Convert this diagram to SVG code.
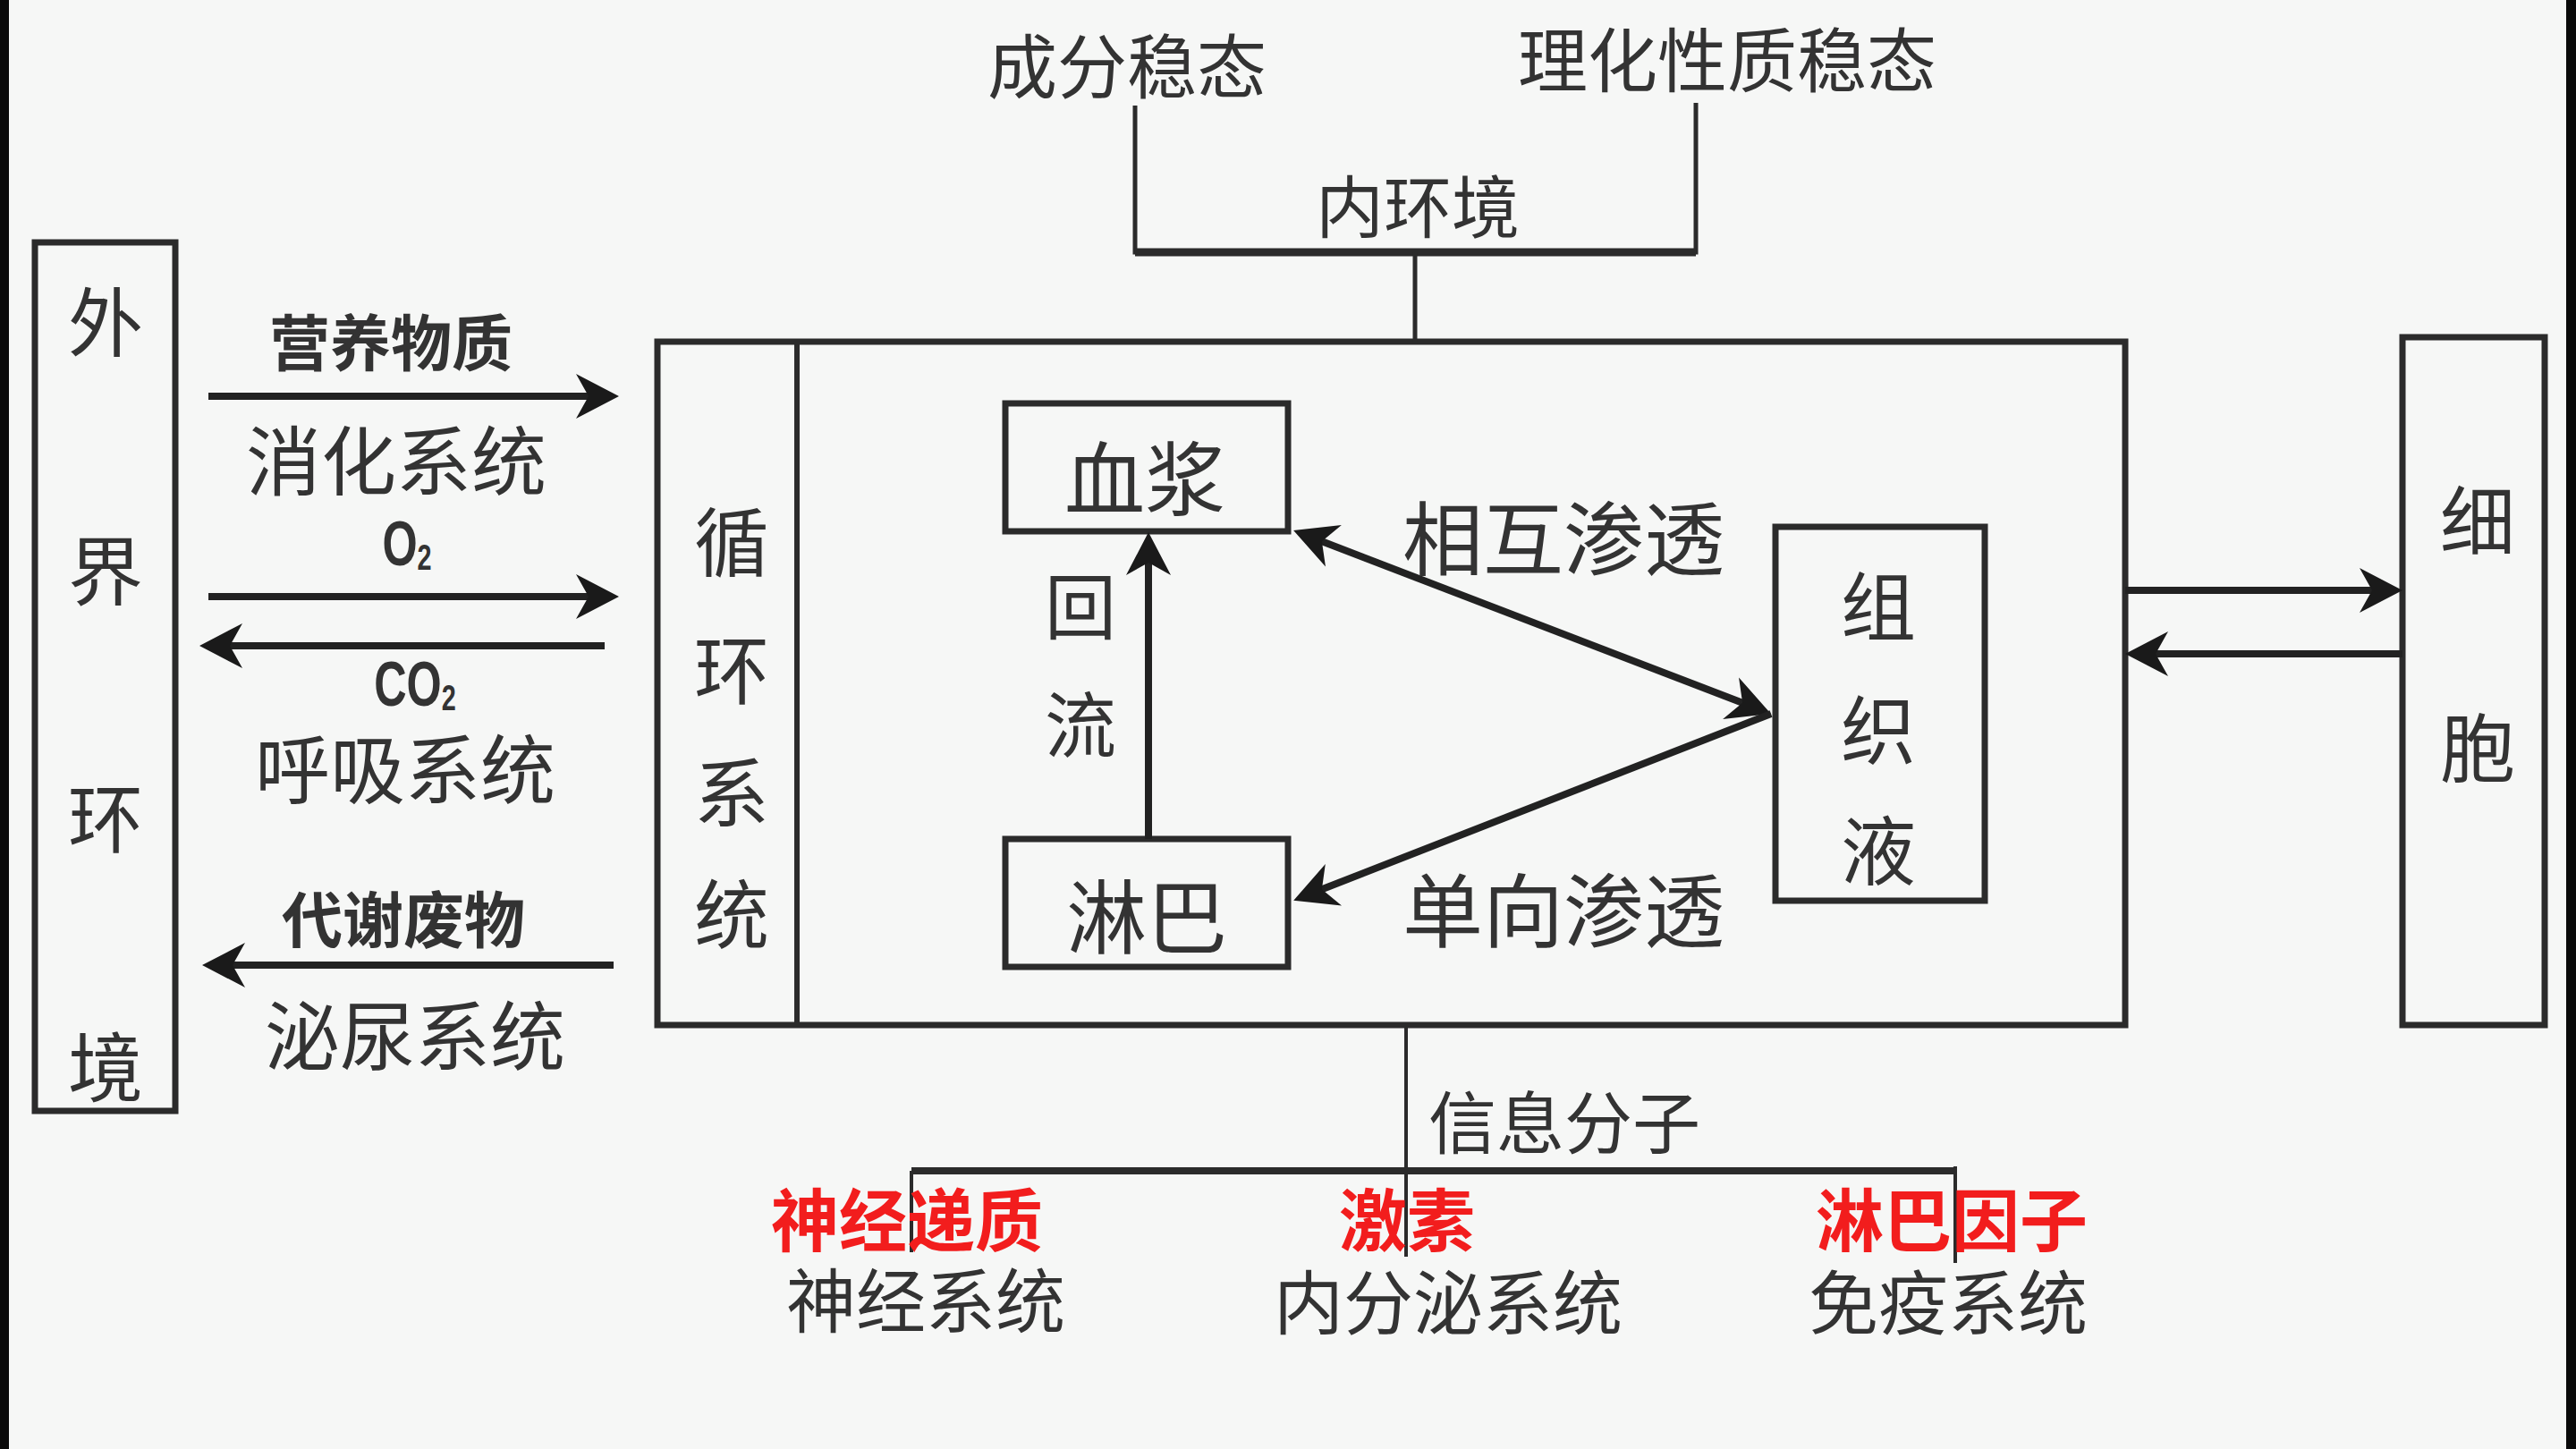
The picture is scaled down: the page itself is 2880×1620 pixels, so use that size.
<svg xmlns="http://www.w3.org/2000/svg" width="2880" height="1620" viewBox="0 0 2880 1620">
<style>
.t{font-family:"Noto Sans CJK SC","Noto Sans",sans-serif;fill:#333;dominant-baseline:central;text-anchor:middle}
.r{fill:#f21d1d;font-weight:bold}
.box{fill:none;stroke:#2b2b2b;stroke-width:7}
.ln{stroke:#2b2b2b;fill:none}
.ar{stroke:#222;stroke-width:8;fill:none;marker-end:url(#ah)}
.chem{font-family:"Liberation Sans",Arial,sans-serif;font-weight:bold;fill:#333;text-anchor:middle;dominant-baseline:central}
</style>
<defs>
<marker id="ah" viewBox="-50 -28 52 56" markerWidth="52" markerHeight="56" refX="-32" refY="0" orient="auto-start-reverse" markerUnits="userSpaceOnUse">
<path d="M0,0 L-48,-25 L-34,0 L-48,25 Z" fill="#1a1a1a"/>
</marker>
</defs>
<rect width="2880" height="1620" fill="#f6f7f6"/>
<rect x="0" y="0" width="10" height="1620" fill="#0a0a0a"/>
<rect x="2869" y="0" width="11" height="1620" fill="#0a0a0a"/>

<g id="top-labels">
<text class="t" x="1260" y="70" font-size="78">成分稳态</text>
<text class="t" x="1931" y="63" font-size="78">理化性质稳态</text>
<text class="t" x="1585" y="227" font-size="76">内环境</text>
</g>

<g id="waijie">
<rect class="box" x="39" y="271" width="157" height="971"/>
<text class="t" x="118" y="355" font-size="84">外</text>
<text class="t" x="118" y="633" font-size="84">界</text>
<text class="t" x="118" y="910" font-size="84">环</text>
<text class="t" x="118" y="1188" font-size="84">境</text>
</g>

<g id="neihuanjing">
<rect class="box" x="735" y="382" width="1641" height="764" stroke-width="8"/>
<line class="ln" x1="891" y1="382" x2="891" y2="1146" stroke-width="6"/>
</g>

<g id="xunhuan">
<text class="t" x="818" y="601" font-size="84">循</text>
<text class="t" x="818" y="744" font-size="84">环</text>
<text class="t" x="818" y="881" font-size="84">系</text>
<text class="t" x="818" y="1017" font-size="84">统</text>
</g>

<g id="xuejiang">
<rect class="box" x="1124" y="451" width="316" height="143"/>
<text class="t" x="1280" y="530" font-size="90">血浆</text>
</g>

<g id="linba">
<rect class="box" x="1124" y="938" width="316" height="143"/>
<text class="t" x="1282" y="1020" font-size="90">淋巴</text>
</g>

<g id="zuzhiye">
<rect class="box" x="1985" y="589" width="234" height="418"/>
<text class="t" x="2100" y="673" font-size="84">组</text>
<text class="t" x="2100" y="811" font-size="84">织</text>
<text class="t" x="2100" y="946" font-size="84">液</text>
</g>

<g id="xibao">
<rect class="box" x="2686" y="377" width="159" height="769"/>
<text class="t" x="2770" y="577" font-size="84">细</text>
<text class="t" x="2770" y="831" font-size="84">胞</text>
</g>

<g id="connectors">
<line class="ar" x1="233" y1="443" x2="660" y2="443"/>
<line class="ar" x1="233" y1="667" x2="660" y2="667"/>
<line class="ar" x1="676" y1="722" x2="255" y2="722"/>
<line class="ar" x1="686" y1="1079" x2="258" y2="1079"/>
<line class="ar" x1="2376" y1="660" x2="2654" y2="660"/>
<line class="ar" x1="2686" y1="731" x2="2408" y2="731"/>
<line class="ar" x1="1284" y1="938" x2="1284" y2="627"/>
<line class="ar" x1="1476" y1="604.5" x2="1950" y2="786.5" style="marker-start:url(#ah)"/>
<line class="ar" x1="1980" y1="798" x2="1476" y2="995"/>
<path class="ln" d="M1269,118 V282 H1896 V115" stroke-width="5"/>
<line class="ln" x1="1269" y1="282" x2="1896" y2="282" stroke-width="9"/>
<line class="ln" x1="1582" y1="282" x2="1582" y2="382" stroke-width="5"/>
<line class="ln" x1="1572" y1="1146" x2="1572" y2="1405" stroke-width="4"/>
<line class="ln" x1="1019" y1="1309" x2="2186" y2="1309" stroke-width="8"/>
<line class="ln" x1="1019" y1="1309" x2="1019" y2="1400" stroke-width="4"/>
<line class="ln" x1="2186" y1="1304" x2="2186" y2="1412" stroke-width="4"/>
</g>

<g id="left-labels">
<text class="t" x="437" y="379" font-size="68" font-weight="bold" fill="#5e5e5e">营养物质</text>
<text class="t" x="443" y="510" font-size="84">消化系统</text>
<g transform="translate(455,608) scale(0.72,1)"><text class="chem" x="0" y="0" font-size="70">O<tspan font-size="40" dy="14">2</tspan></text></g>
<g transform="translate(464,765) scale(0.72,1)"><text class="chem" x="0" y="0" font-size="70">CO<tspan font-size="40" dy="14">2</tspan></text></g>
<text class="t" x="453" y="855" font-size="84">呼吸系统</text>
<text class="t" x="451" y="1024" font-size="68" font-weight="bold" fill="#5e5e5e">代谢废物</text>
<text class="t" x="464" y="1153" font-size="84">泌尿系统</text>
</g>

<g id="mid-labels">
<text class="t" x="1208" y="673" font-size="80">回</text>
<text class="t" x="1208" y="805" font-size="80">流</text>
<text class="t" x="1748" y="597" font-size="90">相互渗透</text>
<text class="t" x="1748" y="1013" font-size="90">单向渗透</text>
</g>

<g id="bottom-labels">
<text class="t" x="1749" y="1251" font-size="76">信息分子</text>
<text class="t r" x="1014" y="1360" font-size="76">神经递质</text>
<text class="t r" x="1573" y="1360" font-size="76">激素</text>
<text class="t r" x="2182" y="1360" font-size="76">淋巴因子</text>
<text class="t" x="1035" y="1450" font-size="78">神经系统</text>
<text class="t" x="1619" y="1452" font-size="78">内分泌系统</text>
<text class="t" x="2178" y="1452" font-size="78">免疫系统</text>
</g>
</svg>
